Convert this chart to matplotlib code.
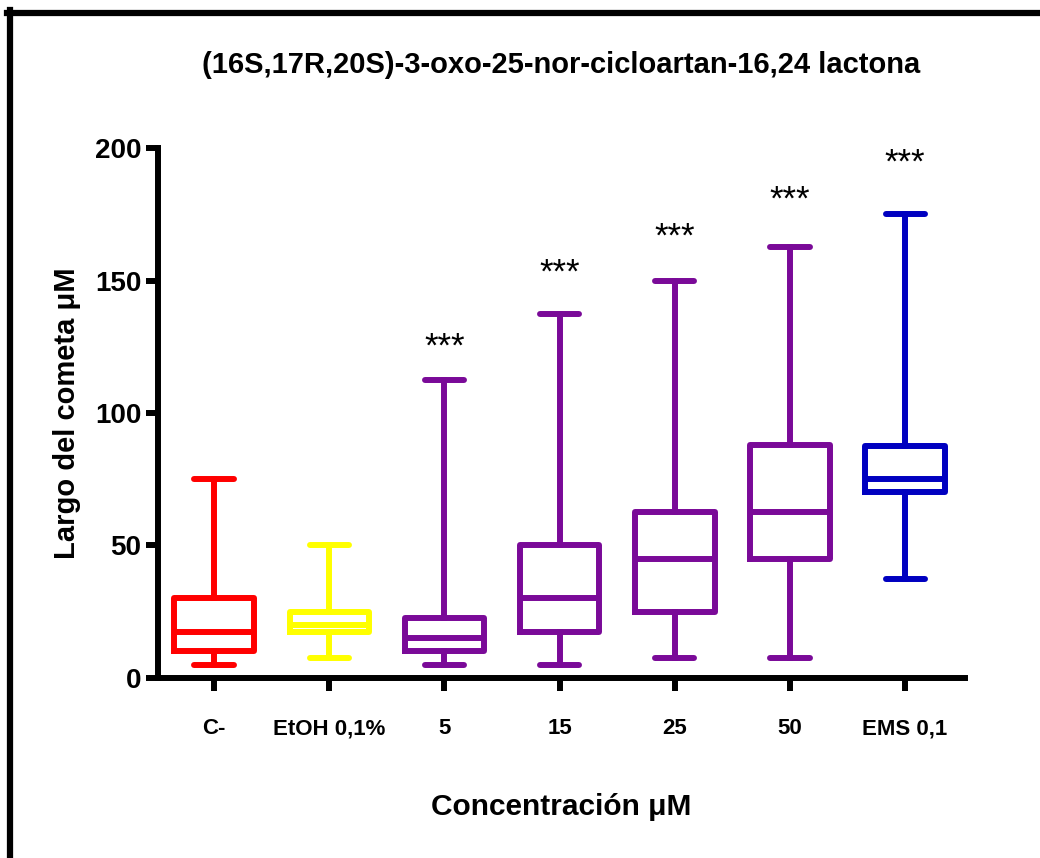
import matplotlib
matplotlib.use("Agg")
import matplotlib.pyplot as plt
from matplotlib.lines import Line2D

plt.rcParams['font.family'] = ['Liberation Sans', 'DejaVu Sans']

# groups on the x axis
groups = ['C-', 'EtOH 0,1%', '5', '15', '25', '50', 'EMS 0,1']
# box statistics
whisk_lo = [5, 7.5, 5, 5, 7.5, 7.5, 37.5]
q1 = [10, 17.5, 10, 17.5, 25, 45, 70]
med = [17.5, 20, 15, 30, 45, 62.5, 75]
q3 = [30, 25, 22.5, 50, 62.5, 88, 87.5]
whisk_hi = [75, 50, 112.5, 137.5, 150, 162.5, 175]
colors = ['#FF0000', '#FFFF00', '#7A0A98', '#7A0A98', '#7A0A98', '#7A0A98', '#0000C0']
signif = ['', '', '***', '***', '***', '***', '***']

fig = plt.figure(figsize=(10.4, 8.58), dpi=100)
ax = fig.add_axes([0.1519, 0.2098, 0.7760, 0.6177])

stats = []
for i in range(len(groups)):
    stats.append({'whislo': whisk_lo[i], 'q1': q1[i], 'med': med[i],
                  'q3': q3[i], 'whishi': whisk_hi[i], 'fliers': [], 'label': groups[i]})

lw = 4.3
for i, s in enumerate(stats):
    c = colors[i]
    ax.bxp([s], positions=[i], widths=0.69, showfliers=False,
           boxprops=dict(color=c, linewidth=lw),
           medianprops=dict(color=c, linewidth=lw),
           whiskerprops=dict(color=c, linewidth=lw),
           capprops=dict(color=c, linewidth=lw, solid_capstyle='round'),
           capwidths=0.34, manage_ticks=False)
    if signif[i]:
        ax.text(i, whisk_hi[i] * 1.11, signif[i], ha='center', va='center',
                fontsize=25, clip_on=False)

ax.set_xlim(-0.487, 6.52)
ax.set_ylim(0, 200)
ax.set_xticks(range(len(groups)))
ax.set_xticklabels(groups, fontsize=16, fontweight='bold')
ax.set_yticks([0, 50, 100, 150, 200])
ax.set_yticklabels(['0', '50', '100', '150', '200'], fontsize=20, fontweight='bold')
ax.tick_params(axis='both', length=9, width=4.3, direction='out')
ax.tick_params(axis='x', pad=20)
ax.tick_params(axis='y', pad=3)

for side in ['top', 'right']:
    ax.spines[side].set_visible(False)
for side in ['left', 'bottom']:
    ax.spines[side].set_linewidth(4.3)

ax.set_title('(16S,17R,20S)-3-oxo-25-nor-cicloartan-16,24 lactona',
             fontsize=21, fontweight='bold', pad=54)
ax.set_ylabel('Largo del cometa \u03bcM', fontsize=21, fontweight='bold', labelpad=10)
ax.set_xlabel('Concentraci\u00f3n \u03bcM', fontsize=21.5, fontweight='bold', labelpad=39)

# black frame on top and left of the picture
fig.add_artist(Line2D([0.007, 1.0], [1 - 13 / 858, 1 - 13 / 858], color='black', linewidth=4.5,
                      transform=fig.transFigure))
fig.add_artist(Line2D([10 / 1040, 10 / 1040], [0, 1 - 10 / 858], color='black', linewidth=4.5,
                      transform=fig.transFigure))

fig.savefig('out.png', dpi=100)
